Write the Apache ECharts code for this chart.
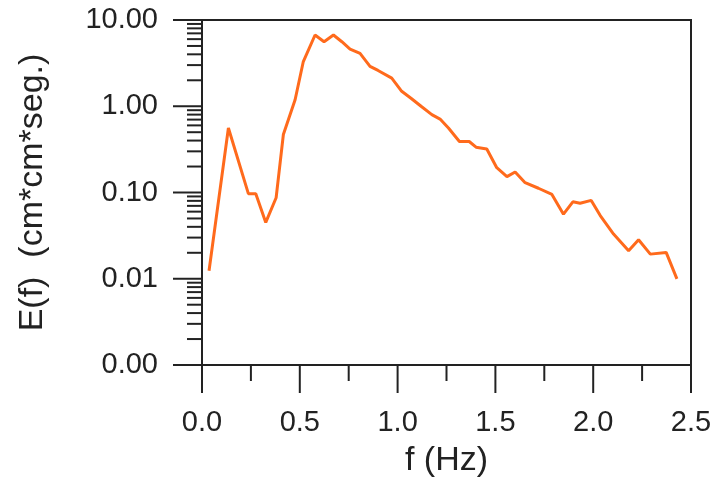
<!DOCTYPE html>
<html>
<head>
<meta charset="utf-8">
<script src="https://cdn.jsdelivr.net/npm/echarts@6/dist/echarts.min.js"></script>
<style>html,body{margin:0;padding:0;background:#fff}#c{width:715px;height:483px}</style>
</head>
<body>
<div id="c"></div>
<script>
var freqs = [0.036,0.135,0.237,0.275,0.326,0.379,0.416,0.476,0.518,0.578,0.624,0.672,0.715,0.757,0.808,0.859,0.90,0.970,1.021,1.07,1.12,1.175,1.217,1.26,1.316,1.366,1.401,1.456,1.507,1.559,1.601,1.652,1.72,1.789,1.848,1.896,1.933,1.99,2.036,2.104,2.181,2.232,2.292,2.373,2.428];
var energy = [0.0124,0.56,0.097,0.097,0.045,0.087,0.47,1.19,3.3,6.7,5.6,6.7,5.6,4.6,4.1,2.9,2.6,2.12,1.49,1.23,1.0,0.80,0.71,0.56,0.39,0.39,0.335,0.32,0.194,0.153,0.173,0.13,0.112,0.095,0.056,0.078,0.075,0.081,0.054,0.033,0.0211,0.0283,0.0193,0.0202,0.00995];
var yTickLabels = ['0.00','0.01','0.10','1.00','10.00'];
var yMajorTicks = [0.001,0.01,0.1,1,10];
var xMajorTicks = [0,0.5,1.0,1.5,2.0,2.5];
var xMinorTicks = [0.25,0.75,1.25,1.75,2.25];
var yMinorTicks = [];
[0.001,0.01,0.1,1].forEach(function(d){for(var k=2;k<=9;k++){yMinorTicks.push(+(d*k).toPrecision(3));}});

var lineData = freqs.map(function(f,i){return [f, energy[i]];});
var chart = echarts.init(document.getElementById('c'));
var font = 'Liberation Sans, Arial, sans-serif';
var ink = '#222';
function tickSeries(data, dx, dy){
  return {type:'custom',silent:true,clip:false,z:5,data:data,
    renderItem:function(params,api){
      var p = api.coord([api.value(0), api.value(1)]);
      return {type:'line',shape:{x1:p[0]+dx,y1:p[1]+dy,x2:p[0],y2:p[1]},style:{stroke:ink,lineWidth:2}};
    }};
}
chart.setOption({
  animation:false,
  grid:{left:202,top:20,right:24,bottom:116,show:true,borderColor:ink,borderWidth:2,backgroundColor:'transparent'},
  xAxis:{
    type:'value',min:0,max:2.5,interval:0.5,
    name:'f (Hz)',nameLocation:'middle',nameGap:79,
    nameTextStyle:{fontFamily:font,fontSize:34,color:ink},
    axisLine:{lineStyle:{color:ink,width:2}},
    axisTick:{show:false},
    axisLabel:{margin:43,fontFamily:font,fontSize:29,color:ink,formatter:function(v){return v.toFixed(1);}},
    splitLine:{show:false}
  },
  yAxis:{
    type:'log',logBase:10,min:0.001,max:10,
    name:'E(f)  (cm*cm*seg.)',nameLocation:'middle',nameGap:152,
    nameTextStyle:{fontFamily:font,fontSize:34,color:ink},
    axisLine:{lineStyle:{color:ink,width:2}},
    axisTick:{show:false},
    axisLabel:{margin:44,fontFamily:font,fontSize:29,color:ink,formatter:function(v){
      var idx = Math.round(Math.log10(v))+3; return yTickLabels[idx];}},
    splitLine:{show:false}
  },
  series:[
    {type:'line',data:lineData,showSymbol:false,symbol:'none',lineStyle:{color:'#ff6a1c',width:3},z:3},
    tickSeries(yMinorTicks.map(function(v){return [0,v];}), -15, 0),
    tickSeries(yMajorTicks.map(function(v){return [0,v];}), -29, 0),
    tickSeries(xMinorTicks.map(function(v){return [v,0.001];}), 0, 16),
    tickSeries(xMajorTicks.map(function(v){return [v,0.001];}), 0, 28)
  ]
});
</script>
</body>
</html>
